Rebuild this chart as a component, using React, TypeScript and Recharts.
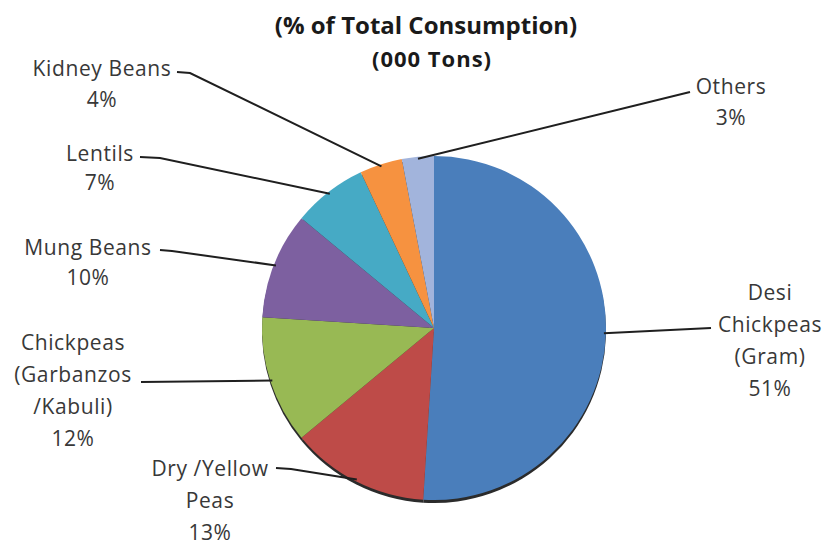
import { PieChart, Pie, Cell } from "recharts";

// share of total pulse consumption, clockwise from 12 o'clock
const pulses = [
  "Desi Chickpeas (Gram)",
  "Dry /Yellow Peas",
  "Chickpeas (Garbanzos /Kabuli)",
  "Mung Beans",
  "Lentils",
  "Kidney Beans",
  "Others",
];
const shares = [51, 13, 12, 10, 7, 4, 3];

// how each category name wraps in its label
const labelLines = [
  ["Desi", "Chickpeas", "(Gram)"],
  ["Dry /Yellow", "Peas"],
  ["Chickpeas", "(Garbanzos", "/Kabuli)"],
  ["Mung Beans"],
  ["Lentils"],
  ["Kidney Beans"],
  ["Others"],
];

const colors = ["#4A7EBB", "#BE4B48", "#98B954", "#7D60A0", "#46AAC5", "#F69240", "#A2B4DC"];

// label placement: text centre x, first line y, line gap, leader end and elbow
const labelLayout = [
  { x: 770, y: 292, gap: 32, end: [711, 328], elbow: null },
  { x: 210, y: 468, gap: 32, end: [276, 468], elbow: [291, 469] },
  { x: 73, y: 342, gap: 32, end: [141, 382], elbow: null },
  { x: 88, y: 247, gap: 30, end: [160, 250], elbow: [172, 251] },
  { x: 100, y: 153, gap: 29, end: [140, 157], elbow: [160, 158] },
  { x: 102, y: 68, gap: 31, end: [177, 72], elbow: [190, 73] },
  { x: 731, y: 86, gap: 31, end: [690, 92], elbow: null },
];

const data = pulses.map((name, i) => ({ name, value: shares[i] }));

const RAD = Math.PI / 180;
const labelFont = "'Open Sans', sans-serif";

function LeaderLabel(props: any) {
  const { cx, cy, midAngle, outerRadius, index, value } = props;
  const lay = labelLayout[index];
  const ex = cx + (outerRadius - 2) * Math.cos(-midAngle * RAD);
  const ey = cy + (outerRadius - 2) * Math.sin(-midAngle * RAD);
  const pts = [[ex, ey]];
  if (lay.elbow) pts.push(lay.elbow);
  pts.push(lay.end);
  const lines = [...labelLines[index], `${value}%`];
  return (
    <g>
      <polyline
        points={pts.map((p) => p.join(",")).join(" ")}
        fill="none"
        stroke="#1f1f1f"
        strokeWidth={2}
      />
      {lines.map((t, k) => (
        <text
          key={k}
          x={lay.x}
          y={lay.y + k * lay.gap}
          textAnchor="middle"
          dominantBaseline="central"
          fill="#383838"
          fontSize={21}
          letterSpacing={0.6}
          fontFamily={labelFont}
        >
          {t}
        </text>
      ))}
    </g>
  );
}

export default function App() {
  return (
    <div style={{ position: "absolute", left: 0, top: 0, width: 827, height: 545, background: "#fff" }}>
      <PieChart width={827} height={545} margin={{ top: 0, right: 0, bottom: 0, left: 0 }}>
        <text x={426} y={24} textAnchor="middle" dominantBaseline="central" fontSize={24} fontWeight="bold" fontFamily={labelFont} fill="#1a1a1a">
          (% of Total Consumption)
        </text>
        <text x={432} y={58} textAnchor="middle" dominantBaseline="central" fontSize={22} fontWeight="bold" letterSpacing={1} fontFamily={labelFont} fill="#1a1a1a">
          (000 Tons)
        </text>
        {/* dark rim under the pie's lower edge */}
        <Pie
          data={data}
          dataKey="value"
          cx={434}
          cy={331}
          outerRadius={172}
          startAngle={90}
          endAngle={-270}
          fill="#2b2b2b"
          stroke="none"
          isAnimationActive={false}
        />
        <Pie
          data={data}
          dataKey="value"
          nameKey="name"
          cx={434}
          cy={328}
          outerRadius={172}
          startAngle={90}
          endAngle={-270}
          stroke="none"
          labelLine={false}
          label={LeaderLabel}
          isAnimationActive={false}
        >
          {data.map((d, i) => (
            <Cell key={d.name} fill={colors[i]} />
          ))}
        </Pie>
      </PieChart>
    </div>
  );
}
